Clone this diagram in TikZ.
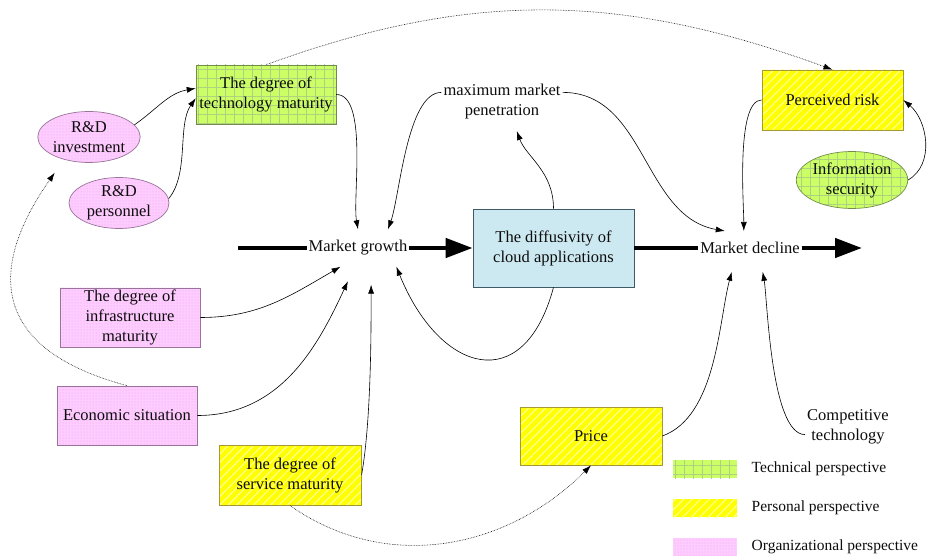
\documentclass[tikz,border=0pt]{standalone}
\usepackage{fontspec}
\setmainfont{Liberation Serif}
\usepackage{tikz}
\usetikzlibrary{arrows.meta}
\usetikzlibrary{patterns.meta}
\usetikzlibrary{shapes.geometric}
\usetikzlibrary{positioning}
\definecolor{mgreen}{rgb}{0.8, 1, 0.4}
\definecolor{mgrid}{rgb}{0.68, 0.82, 0.5}
\definecolor{mgreenline}{rgb}{0.45, 0.55, 0.3}
\definecolor{myellow}{rgb}{1, 1, 0}
\definecolor{mstripe}{rgb}{1, 1, 0.55}
\definecolor{myellowline}{rgb}{0.65, 0.6, 0.2}
\definecolor{mpink}{rgb}{1, 0.8, 1}
\definecolor{mdots}{rgb}{0.9, 0.65, 0.9}
\definecolor{mpinkline}{rgb}{0.6, 0.45, 0.6}
\definecolor{mblue}{rgb}{0.8, 0.91, 0.94}
\definecolor{mblueline}{rgb}{0.25, 0.35, 0.4}
\definecolor{mtext}{rgb}{0.05, 0.05, 0.05}
\tikzset{techfill/.style = {preaction={fill=mgreen},
                            pattern={Hatch[angle=0, distance=9pt, line width=0.5pt]},
                            pattern color=mgrid}}
\tikzset{persfill/.style = {preaction={fill=myellow},
                            pattern={Lines[angle=45, distance=6pt, line width=1.2pt]},
                            pattern color=mstripe}}
\tikzset{orgfill/.style = {preaction={fill=mpink},
                           pattern={Dots[distance=3pt, radius=0.5pt]},
                           pattern color=mdots}}
\tikzset{box/.style = {align=center, inner sep=0pt, line width=0.7pt,
                       minimum width=140pt, minimum height=59pt}}
\tikzset{oval/.style = {ellipse, align=center, inner sep=0pt, line width=0.7pt,
                        minimum width=100pt, minimum height=51pt}}
\tikzset{link/.style = {-{Latex[length=9pt, width=6pt]}, line width=0.6pt}}
\tikzset{dotlink/.style = {link, densely dotted}}
\tikzset{flow/.style = {line width=4.5pt}}
\tikzset{flowhead/.style = {flow, -{Triangle[length=27pt, width=19pt]}}}

\begin{document}
\begin{tikzpicture}[x=1pt, y=1pt, font=\fontsize{16.5}{20}\selectfont, text=mtext]
      \useasboundingbox (0, 0) rectangle (927, 555);

      \node [box, techfill, draw=mgreenline] (tech) at (266, 460.5) {The degree of\\technology maturity};
      \node [oval, orgfill, draw=mpinkline] (rdinv) at (89, 418) {R\&D\\investment};
      \node [oval, orgfill, draw=mpinkline] (rdper) at (119, 352) {R\&D\\personnel};
      \node [box, orgfill, draw=mpinkline] (infra) at (130, 237.5) {The degree of\\infrastructure\\maturity};
      \node [box, orgfill, draw=mpinkline] (econ) at (127, 139.5) {Economic situation};
      \node [box, persfill, draw=myellowline, minimum width=142pt, minimum height=60pt] (serv) at (290, 80) {The degree of\\service maturity};
      \node [box, persfill, draw=myellowline, minimum width=142pt, minimum height=58pt] (price) at (591, 119) {Price};
      \node [box, persfill, draw=myellowline, minimum width=141pt, minimum height=60pt] (risk) at (832.5, 455) {Perceived risk};
      \node [oval, techfill, draw=mgreenline, minimum width=102pt, minimum height=57pt] (infosec) at (852, 375) {Information\\security};
      \node [box, fill=mblue, draw=mblueline, minimum width=161pt, minimum height=78pt] (diff) at (553.5, 307) {The diffusivity of\\cloud applications};
      \node [inner xsep=2pt, inner ysep=11pt] (growth) at (358, 307) {Market growth};
      \node [inner xsep=2pt, inner ysep=11pt] (decline) at (750, 307) {Market decline};
      \node [align=center, inner sep=2pt] (maxpen) at (502, 453) {maximum market\\penetration};
      \node [align=center, inner sep=2pt] (comptech) at (848, 128) {Competitive\\technology};

      \coordinate (gstart) at (238, 307);
      \coordinate (dend) at (862, 307);
      \draw [flow] (gstart) -- (growth.west);
      \draw [flowhead] (growth.east) -- (diff.west);
      \draw [flow] (diff.east) -- (decline.west);
      \draw [flowhead] (decline.east) -- (dend);

      \draw [dotlink] (tech.north) to [out=20, in=160] (risk.north);
      \draw [link] (rdinv.15) to [out=35, in=190] (tech.175);
      \draw [link] (rdper.5) to [out=50, in=235, looseness=0.8] (tech.183);
      \draw [link] (tech.east) to [out=0, in=100, looseness=0.6] (growth.north);
      \draw [link] (maxpen.171) to [out=180, in=70, looseness=0.6] (growth.32);
      \draw [link, shorten >=10pt] (diff.north) to [out=90, in=-70] (maxpen.-60);
      \draw [link] (maxpen.9) to [out=0, in=170] (decline.146);
      \draw [link] (risk.west) to [out=180, in=90, looseness=0.5] (decline.110);
      \draw [link] (infosec.east) to [out=30, in=-40] (risk.east);
      \draw [link] (diff.south) to [out=-105, in=-68, looseness=1.85] (growth.-26);
      \draw [link] (infra.east) to [out=0, in=210] (growth.-133);
      \draw [link, shorten >=16pt] (econ.east) to [out=0, in=-115] (growth.-100);
      \draw [link, shorten >=18pt] (serv.east) to [out=80, in=-90, looseness=0.7] (growth.-55);
      \draw [dotlink, shorten >=16pt] (econ.north) to [out=165, in=235, looseness=1.5] (rdinv.222);
      \draw [dotlink] (serv.south) to [out=-35, in=225] (price.south);
      \draw [link, shorten >=7pt] (price.east) to [out=20, in=-105, looseness=0.8] (decline.-134);
      \draw [link, shorten >=7pt] (comptech.190) to [out=180, in=-80, looseness=0.5] (decline.-56);

      \node [techfill, minimum width=64pt, minimum height=18pt] (legtech) at (705, 86) {};
      \node [persfill, minimum width=64pt, minimum height=18pt] (legpers) at (705, 47) {};
      \node [orgfill, minimum width=64pt, minimum height=18pt] (legorg) at (705, 8) {};
      \node [right=11pt of legtech, font=\fontsize{15.5}{18}\selectfont] (legtechtext) {Technical perspective};
      \node [right=11pt of legpers, font=\fontsize{15.5}{18}\selectfont] (legperstext) {Personal perspective};
      \node [right=11pt of legorg, font=\fontsize{15.5}{18}\selectfont] (legorgtext) {Organizational perspective};
\end{tikzpicture}
\end{document}
